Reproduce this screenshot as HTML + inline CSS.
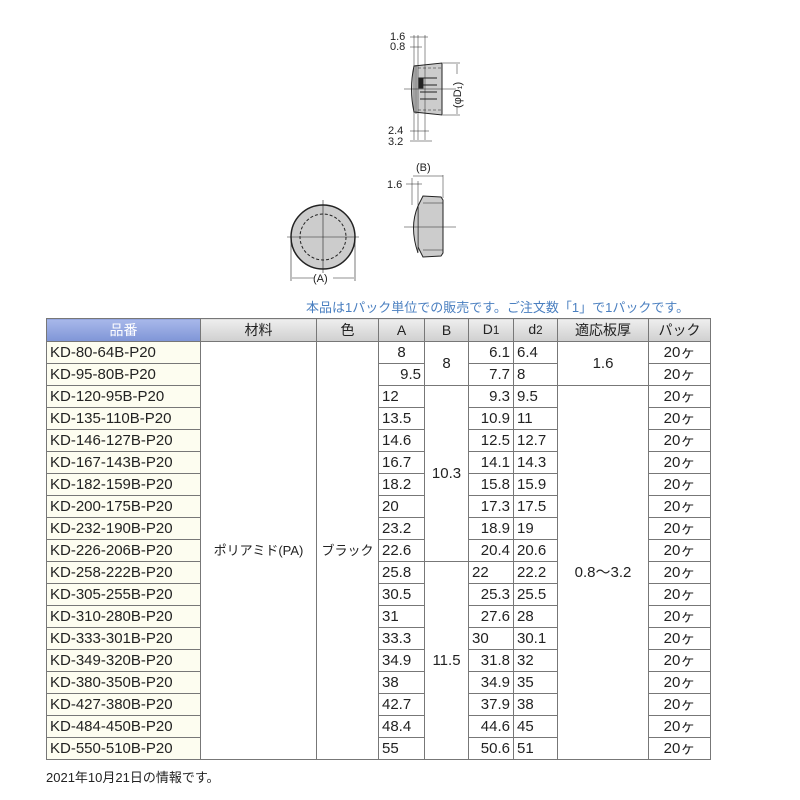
<!DOCTYPE html>
<html><head><meta charset="utf-8"><style>
body{margin:0;width:800px;height:800px;background:#fff;font-family:"Liberation Sans","Noto Sans CJK JP",sans-serif;position:relative;overflow:hidden}
table{position:absolute;left:46px;top:318px;border-collapse:collapse;font-size:15px;color:#222;table-layout:fixed;width:664px}
td,th{border:1px solid #777;height:21px;padding:0 3px;line-height:21px;white-space:nowrap;overflow:hidden}
th{font-weight:normal;background:linear-gradient(#eee,#cfcfcf);height:22px;font-size:14px}
th.b{background:linear-gradient(#a8b8ea,#7f95d6);color:#fff}
td.p{background:#fdfdf0;text-align:left;padding-left:3px}
td.s{font-size:13px;padding:0}
.c{text-align:center}.r{text-align:right}
.note{position:absolute;left:306px;top:297px;font-size:13px;color:#4a7fc0}
.foot{position:absolute;left:46px;top:767px;font-size:13px;color:#222}
</style></head><body>
<svg width="800" height="300" style="position:absolute;left:0;top:0" font-family="Liberation Sans" font-size="11" fill="#222">
<g stroke="#222" stroke-width="1">
<circle cx="323" cy="237" r="32" fill="#ccc" stroke-width="1.5"/>
<circle cx="323" cy="237" r="23" fill="none" stroke-dasharray="3,2"/>
<line x1="287" y1="237" x2="359" y2="237" stroke-width=".6"/>
<line x1="323" y1="200" x2="323" y2="273" stroke-width=".6"/>
<line x1="291" y1="240" x2="291" y2="281" stroke-width=".6"/>
<line x1="355" y1="240" x2="355" y2="281" stroke-width=".6"/>
<line x1="292" y1="278" x2="314" y2="278" stroke-width=".6"/>
<line x1="333" y1="278" x2="354" y2="278" stroke-width=".6"/>
<path d="M414,66 L442,63 L442,115 L414,112 Q409,89 414,66Z" fill="#ccc"/>
<line x1="416" y1="65" x2="416" y2="114" stroke-width=".6"/>
<line x1="418" y1="68" x2="442" y2="68" stroke-dasharray="3,2" stroke-width=".6"/>
<line x1="418" y1="110" x2="442" y2="110" stroke-dasharray="3,2" stroke-width=".6"/>
<rect x="419" y="78" width="4" height="10" fill="#222"/>
<line x1="420" y1="78" x2="437" y2="78"/><line x1="420" y1="85" x2="437" y2="85"/><line x1="420" y1="92" x2="437" y2="92"/><line x1="420" y1="99" x2="437" y2="99"/>
<line x1="404" y1="89" x2="456" y2="89" stroke-width=".6"/>
<line x1="414" y1="35" x2="414" y2="140" stroke-width=".5"/>
<line x1="418" y1="35" x2="418" y2="140" stroke-width=".5"/>
<line x1="425" y1="35" x2="425" y2="140" stroke-width=".5"/>
<line x1="410" y1="37" x2="428" y2="37" stroke-width=".5"/>
<line x1="410" y1="47" x2="422" y2="47" stroke-width=".5"/>
<line x1="410" y1="131" x2="429" y2="131" stroke-width=".5"/>
<line x1="410" y1="141" x2="432" y2="141" stroke-width=".5"/>
<line x1="443" y1="63" x2="460" y2="63" stroke-width=".5"/>
<line x1="443" y1="115" x2="460" y2="115" stroke-width=".5"/>
<line x1="457" y1="64" x2="457" y2="74" stroke-width=".5"/>
<line x1="457" y1="106" x2="457" y2="114" stroke-width=".5"/>
<path d="M418,206 L423,196 L441,197 L443,200 L443,253 L441,256 L423,257 L418,247 Z" fill="#ccc"/>
<path d="M418,206 Q409,227 418,253" fill="#ccc"/>
<line x1="423" y1="203" x2="443" y2="203" stroke-width=".6"/>
<line x1="423" y1="250" x2="443" y2="250" stroke-width=".6"/>
<line x1="418" y1="206" x2="418" y2="252" stroke-width=".6"/>
<line x1="404" y1="227" x2="456" y2="227" stroke-width=".6"/>
<line x1="412" y1="178" x2="412" y2="205" stroke-width=".5"/>
<line x1="443" y1="175" x2="443" y2="198" stroke-width=".5"/>
<line x1="413" y1="176" x2="443" y2="176" stroke-width=".5"/>
<line x1="406" y1="184" x2="422" y2="184" stroke-width=".5"/>
<line x1="418" y1="181" x2="418" y2="205" stroke-width=".5"/>
</g>
<text x="390" y="40">1.6</text><text x="390" y="50">0.8</text>
<text x="388" y="134">2.4</text><text x="388" y="145">3.2</text>
<text x="461" y="108" transform="rotate(-90 461 108)">(φD₁)</text>
<text x="416" y="171">(B)</text>
<text x="387" y="188">1.6</text>
<text x="313" y="282">(A)</text>
</svg>
<div class="note">本品は1パック単位での販売です。ご注文数「1」で1パックです。</div>
<table>
<colgroup><col style="width:154px"><col style="width:116px"><col style="width:62px"><col style="width:46px"><col style="width:44px"><col style="width:45px"><col style="width:44px"><col style="width:91px"><col style="width:62px"></colgroup>
<tr><th class="b">品番</th><th>材料</th><th>色</th><th>A</th><th>B</th><th>D<small>1</small></th><th>d<small>2</small></th><th>適応板厚</th><th>パック</th></tr>
<tr><td class="p">KD-80-64B-P20</td><td rowspan="19" class="c s">ポリアミド(PA)</td><td rowspan="19" class="c s">ブラック</td><td class="c">8</td><td rowspan="2" class="c">8</td><td class="r">6.1</td><td>6.4</td><td rowspan="2" class="c">1.6</td><td class="c">20ヶ</td></tr>
<tr><td class="p">KD-95-80B-P20</td><td class="r">9.5</td><td class="r">7.7</td><td>8</td><td class="c">20ヶ</td></tr>
<tr><td class="p">KD-120-95B-P20</td><td>12</td><td rowspan="8" class="c">10.3</td><td class="r">9.3</td><td>9.5</td><td rowspan="17" class="c">0.8～3.2</td><td class="c">20ヶ</td></tr>
<tr><td class="p">KD-135-110B-P20</td><td>13.5</td><td class="r">10.9</td><td>11</td><td class="c">20ヶ</td></tr>
<tr><td class="p">KD-146-127B-P20</td><td>14.6</td><td class="r">12.5</td><td>12.7</td><td class="c">20ヶ</td></tr>
<tr><td class="p">KD-167-143B-P20</td><td>16.7</td><td class="r">14.1</td><td>14.3</td><td class="c">20ヶ</td></tr>
<tr><td class="p">KD-182-159B-P20</td><td>18.2</td><td class="r">15.8</td><td>15.9</td><td class="c">20ヶ</td></tr>
<tr><td class="p">KD-200-175B-P20</td><td>20</td><td class="r">17.3</td><td>17.5</td><td class="c">20ヶ</td></tr>
<tr><td class="p">KD-232-190B-P20</td><td>23.2</td><td class="r">18.9</td><td>19</td><td class="c">20ヶ</td></tr>
<tr><td class="p">KD-226-206B-P20</td><td>22.6</td><td class="r">20.4</td><td>20.6</td><td class="c">20ヶ</td></tr>
<tr><td class="p">KD-258-222B-P20</td><td>25.8</td><td rowspan="9" class="c">11.5</td><td>22</td><td>22.2</td><td class="c">20ヶ</td></tr>
<tr><td class="p">KD-305-255B-P20</td><td>30.5</td><td class="r">25.3</td><td>25.5</td><td class="c">20ヶ</td></tr>
<tr><td class="p">KD-310-280B-P20</td><td>31</td><td class="r">27.6</td><td>28</td><td class="c">20ヶ</td></tr>
<tr><td class="p">KD-333-301B-P20</td><td>33.3</td><td>30</td><td>30.1</td><td class="c">20ヶ</td></tr>
<tr><td class="p">KD-349-320B-P20</td><td>34.9</td><td class="r">31.8</td><td>32</td><td class="c">20ヶ</td></tr>
<tr><td class="p">KD-380-350B-P20</td><td>38</td><td class="r">34.9</td><td>35</td><td class="c">20ヶ</td></tr>
<tr><td class="p">KD-427-380B-P20</td><td>42.7</td><td class="r">37.9</td><td>38</td><td class="c">20ヶ</td></tr>
<tr><td class="p">KD-484-450B-P20</td><td>48.4</td><td class="r">44.6</td><td>45</td><td class="c">20ヶ</td></tr>
<tr><td class="p">KD-550-510B-P20</td><td>55</td><td class="r">50.6</td><td>51</td><td class="c">20ヶ</td></tr>
</table>
<div class="foot">2021年10月21日の情報です。</div>
</body></html>
